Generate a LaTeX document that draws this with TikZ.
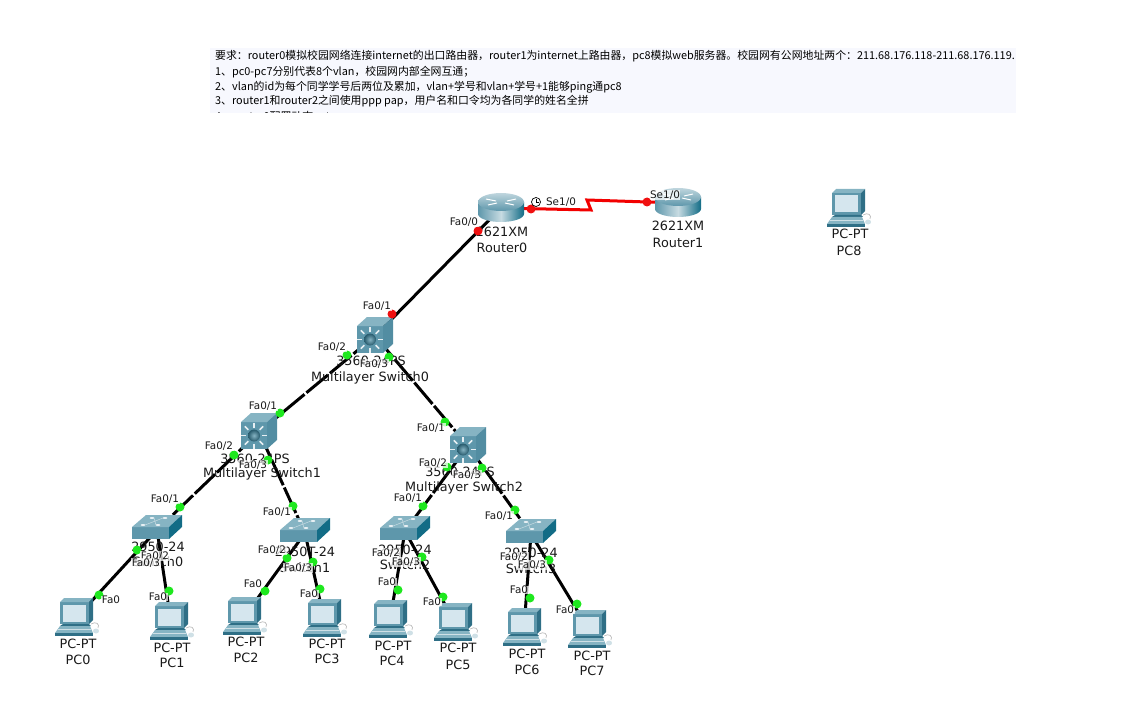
\documentclass[tikz,border=0pt]{standalone}
\usepackage{fontspec}
\setmainfont{DejaVu Sans}
\newfontfamily\cjk{Noto Sans CJK SC}
\definecolor{noteback}{HTML}{F7F8FE}
\definecolor{metal}{HTML}{5E97AB}
\definecolor{metallight}{HTML}{86B4C3}
\definecolor{metaldark}{HTML}{2F6F86}
\definecolor{sidedark}{HTML}{126C86}
\definecolor{screen}{HTML}{D5E6EE}
\definecolor{portgreen}{HTML}{1EE81E}
\definecolor{portred}{HTML}{F01010}
\tikzset{
  x=1pt,y=-1pt,
  anchorbox/.style={inner sep=0pt,minimum size=2pt},
  link/.style={line width=3pt,black},
  dashlink/.style={link,dash pattern=on 28pt off 2.5pt},
  serial/.style={line width=3pt,red!95!black},
  devlabel/.style={font=\fontsize{12.8}{13}\selectfont,inner sep=0pt,text=black!90},
  portlabel/.style={font=\fontsize{10.4}{11}\selectfont,inner sep=0.5pt,fill=white,fill opacity=0.72,text opacity=1,text=black!90},
  portdot/.style={circle,fill=portgreen,minimum size=9pt,inner sep=0pt},
  reddot/.style={circle,fill=portred,minimum size=9pt,inner sep=0pt},
  noteline/.style={anchor=west,inner sep=0pt,font=\cjk\fontsize{10.88}{12}\selectfont,text=black},
  pics/router/.style={code={
    \shade[left color=metal,right color=sidedark,middle color=white!65!metal]
      (-23,-6) -- (-23,6) arc[start angle=180,end angle=0,x radius=23,y radius=8] -- (23,-6) -- cycle;
    \shade[top color=white!60!metal,bottom color=metal] (0,-6) ellipse[x radius=23,y radius=9];
    \draw[white,line width=1pt] (-15,-9) -- (-5,-7) (15,-9) -- (6,-7) (-13,-3) -- (-4,-5) (13,-3) -- (4,-5);
  }},
  pics/mlswitch/.style={code={
    \fill[metal] (-18,-10) rectangle (8,17);
    \fill[metallight] (-18,-10) -- (-8,-19) -- (18,-19) -- (8,-10) -- cycle;
    \fill[metal!75!metaldark] (8,-10) -- (18,-19) -- (18,8) -- (8,17) -- cycle;
    \foreach \a in {0,45,...,315}
      \draw[white!85!metal,line width=1.5pt] ({-5+8*cos(\a)},{3.5+8*sin(\a)}) -- ({-5+13*cos(\a)},{3.5+13*sin(\a)});
    \shade[inner color=metallight,outer color=metaldark!80!black] (-5,3.5) circle[radius=6];
  }},
  pics/lanswitch/.style={code={
    \fill[metal] (-25,-3) rectangle (12,9);
    \fill[metallight] (-25,-3) -- (-11,-15) -- (25,-15) -- (12,-3) -- cycle;
    \fill[sidedark] (12,-3) -- (25,-15) -- (25,-3) -- (12,9) -- cycle;
    \foreach \p in {(-14,-5),(-5,-12),(8,-12),(1,-5)}
      \fill[white!85!metal] \p ellipse[x radius=2.4,y radius=1];
    \draw[white!65!metal,line width=0.5pt] (-12,-5) -- (6,-12) (-3,-12) -- (-1,-5);
  }},
  pics/desktop/.style={code={
    \fill[metal] (-16,-16) rectangle (13,6);
    \fill[metallight] (-16,-16) -- (-12,-20) -- (17,-20) -- (13,-16) -- cycle;
    \fill[metaldark] (13,-16) -- (17,-20) -- (17,2) -- (13,6) -- cycle;
    \fill[screen] (-13,-13.5) rectangle (10,3.5);
    \fill[metaldark] (-16,8) -- (-13,6) -- (13,6) -- (15,8) -- cycle;
    \fill[metallight] (-21,15) -- (-16,8) -- (14,8) -- (17,15) -- cycle;
    \fill[metaldark] (-21,15) rectangle (17,18);
    \draw[white!70!metal,line width=0.5pt] (-18,11.5) -- (15,11.5);
    \draw[black!30,line width=0.6pt] (15,6) .. controls (20,3) and (24,6) .. (22,10);
    \fill[white!70!metal] (20,13) ellipse[x radius=3,y radius=2.5];
  }},
}
\begin{document}
\begin{tikzpicture}
\useasboundingbox (0,0) rectangle (1128,706);

% requirements panel, cut off below its fourth full line
\fill[noteback] (210,48) rectangle (1016,113);
\begin{scope}
  \clip (210,48) rectangle (1016,113);
  \node[noteline] (n0) at (215,56.5) {要求：router0模拟校园网络连接internet的出口路由器，router1为internet上路由器，pc8模拟web服务器。校园网有公网地址两个：211.68.176.118-211.68.176.119.};
  \node[noteline] (n1) at (215,72) {1、pc0-pc7分别代表8个vlan，校园网内部全网互通；};
  \node[noteline] (n2) at (215,87) {2、vlan的id为每个同学学号后两位及累加，vlan+学号和vlan+学号+1能够ping通pc8};
  \node[noteline] (n3) at (215,101.5) {3、router1和router2之间使用ppp pap，用户名和口令均为各同学的姓名全拼};
  \node[noteline] (n4) at (215,116.5) {4、router0配置动态nat};
\end{scope}

% device anchors
\foreach \n/\x/\y in {R0/501/208,R1/678/203,PCe/848/209,
  MA/375/336,MB/259/432,MC/468/446,
  SA/157/530,SB/305/533,SC/405/531,SD/531/534,
  PA/76/618,PB/171/622,PC/244/617,PD/324/619,
  PE/390/620,PF/455/623,PG/524/628,PH/589/630}
  \node[anchorbox] (\n) at (\x,\y) {};

% links
\draw[link] (R0.center) -- (MA.center);
\draw[dashlink] (MA.center) -- (MB.center);
\draw[dashlink] (MA.center) -- (MC.center);
\draw[dashlink] (MB.center) -- (SA.center);
\draw[dashlink] (MB.center) -- (SB.center);
\draw[dashlink] (MC.center) -- (SC.center);
\draw[dashlink] (MC.center) -- (SD.center);
\draw[link] (SA.center) -- (PA.center);
\draw[link] (SA.center) -- (PB.center);
\draw[link] (SB.center) -- (PC.center);
\draw[link] (SB.center) -- (PD.center);
\draw[link] (SC.center) -- (PE.center);
\draw[link] (SC.center) -- (PF.center);
\draw[link] (SD.center) -- (PG.center);
\draw[link] (SD.center) -- (PH.center);
% serial line with its lightning step
\draw[serial] (R0.center) -- (591,210) -- (587,200) -- (R1.center);

% device icons
\pic at (R0) {router};
\pic at (R1) {router};
\pic at (PCe) {desktop};
\pic at (MA) {mlswitch};
\pic at (MB) {mlswitch};
\pic at (MC) {mlswitch};
\pic at (SA) {lanswitch};
\pic at (SB) {lanswitch};
\pic at (SC) {lanswitch};
\pic at (SD) {lanswitch};
\foreach \n in {PA,PB,PC,PD,PE,PF,PG,PH} \pic at (\n) {desktop};

% device captions
\foreach \t/\x/\y/\k in {2621XM/502/232/a1,Router0/502/248/a2,2621XM/678/226/a3,Router1/678/243/a4,
  PC-PT/850/234/a5,PC8/849/251/a6,
  3560-24PS/371/361/b1,Multilayer Switch0/370/378/b2,
  3560-24PS/255/459/b3,Multilayer Switch1/262/474/b4,
  3560-24PS/460/472/b5,Multilayer Switch2/464/488/b6,
  2950-24/158/547/c1,Switch0/158/562/c2,2950T-24/305/552/c3,Switch1/305/568/c4,
  2950-24/405/550/c5,Switch2/405/565/c6,2950-24/531/553/c7,Switch3/531/569/c8,
  PC-PT/78/644/d1,PC0/78/660/d2,PC-PT/172/648/d3,PC1/172/663/d4,
  PC-PT/246/642/d5,PC2/246/658/d6,PC-PT/327/644/d7,PC3/327/659/d8,
  PC-PT/393/646/e1,PC4/392/661/e2,PC-PT/458/648/e3,PC5/458/665/e4,
  PC-PT/527/654/e5,PC6/527/670/e6,PC-PT/592/656/e7,PC7/592/671/e8}
  \node[devlabel] (\k) at (\x,\y) {\t};

% port lights
\foreach \x/\y/\k in {478/231/r1,531/209/r2,647/202/r3,392/314/r4}
  \node[reddot] (\k) at (\x,\y) {};
\foreach \x/\y/\k in {347/355/g1,389/357/g2,280/413/g3,234/455/g4,268/460/g5,445/422/g6,447/467/g7,482/468/g8,
  180/507/g9,137/550/g10,293/506/g11,287/558/g12,313/562/g13,423/506/g14,422/557/g15,515/510/g16,549/560/g17,
  99/595/h1,169/591/h2,265/591/h3,320/589/h4,398/590/h5,443/597/h6,530/598/h7,577/604/h8}
  \node[portdot] (\k) at (\x,\y) {};

% port names
\foreach \t/\x/\y/\k in {Fa0{/}0/464/222/p1,Se1{/}0/561/202/p2,Se1{/}0/665/195/p3,
  Fa0{/}1/377/306/p4,Fa0{/}2/332/347/p5,Fa0{/}3/374/364/p6,
  Fa0{/}1/263/406/p7,Fa0{/}2/219/446/p8,Fa0{/}3/253/465/p9,
  Fa0{/}1/431/428/p10,Fa0{/}2/433/463/p11,Fa0{/}3/467/475/p12,
  Fa0{/}1/165/499/p13,Fa0{/}2/155/556/p14,Fa0{/}3/146/563/p15,
  Fa0{/}1/277/512/p16,Fa0{/}2/272/550/p17,Fa0{/}3/298/568/p18,
  Fa0{/}1/408/498/p19,Fa0{/}2/386/553/p20,Fa0{/}3/406/562/p21,
  Fa0{/}1/499/516/p22,Fa0{/}2/514/557/p23,Fa0{/}3/532/565/p24,
  Fa0/111/600/q1,Fa0/158/597/q2,Fa0/253/584/q3,Fa0/309/594/q4,
  Fa0/387/582/q5,Fa0/432/602/q6,Fa0/519/590/q7,Fa0/565/610/q8}
  \node[portlabel] (\k) at (\x,\y) {\t};

% clock mark of the DCE end
\node[circle,draw=black,line width=0.7pt,fill=white,minimum size=9pt,inner sep=0pt] (clk) at (536,202) {};
\draw[line width=0.7pt] (clk.center) -- ++(0,-3) (clk.center) -- ++(2.5,0);
\end{tikzpicture}
\end{document}
